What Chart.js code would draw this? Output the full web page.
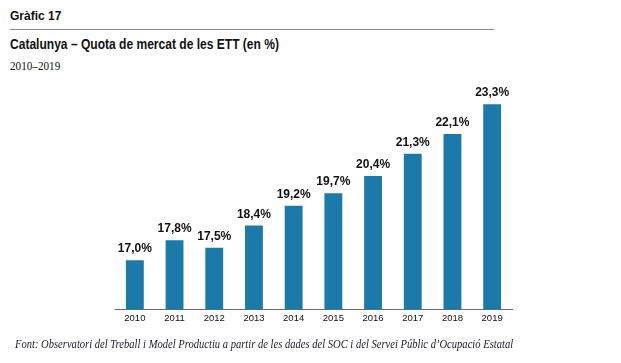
<!DOCTYPE html>
<html>
<head>
<meta charset="utf-8">
<script src="https://cdn.jsdelivr.net/npm/chart.js@4.4.0/dist/chart.umd.min.js"></script>
<style>
  body { margin: 0; background: #fff; }
  #wrap { position: relative; width: 621px; height: 363px; overflow: hidden; }
  #grafic { position: absolute; left: 10px; top: 9px; font: bold 12px "Liberation Sans", Arial, sans-serif; color: #111; }
  #linia { position: absolute; left: 10px; top: 29px; width: 484px; height: 1px; background: #8a8a8a; }
  #titol { position: absolute; left: 10px; top: 36px; font: bold 14px "Liberation Sans", Arial, sans-serif; color: #111;
           transform: scaleX(0.86); transform-origin: left top; white-space: nowrap; }
  #periode { position: absolute; left: 10px; top: 59px; font: 12px "Liberation Serif", "Times New Roman", serif; color: #111;
             transform: scaleX(0.93); transform-origin: left top; }
  #font { position: absolute; left: 15px; top: 337px; font: italic 12px "Liberation Serif", "Times New Roman", serif; color: #1a1a2e;
          transform: scaleX(0.88); transform-origin: left top; white-space: nowrap; }
  canvas { position: absolute; left: 0; top: 0; }
</style>
</head>
<body>
<div id="wrap">
  <div id="grafic">Gràfic 17</div>
  <div id="linia"></div>
  <div id="titol">Catalunya – Quota de mercat de les ETT (en %)</div>
  <div id="periode">2010–2019</div>
  <canvas id="quotaChart" width="621" height="363"></canvas>
  <div id="font">Font: Observatori del Treball i Model Productiu a partir de les dades del SOC i del Servei Públic d’Ocupació Estatal</div>
</div>
<script>
// Dades del gràfic
var anys = ["2010", "2011", "2012", "2013", "2014", "2015", "2016", "2017", "2018", "2019"];
var quota = [17.0, 17.8, 17.5, 18.4, 19.2, 19.7, 20.4, 21.3, 22.1, 23.3];

// Etiquetes de valor damunt de cada barra (format català, amb coma)
var etiquetesBarres = {
  id: "etiquetesBarres",
  afterDatasetsDraw: function (chart) {
    var ctx = chart.ctx;
    var meta = chart.getDatasetMeta(0);
    ctx.save();
    ctx.font = "bold 12px 'Liberation Sans', Arial, sans-serif";
    ctx.fillStyle = "#111";
    ctx.textAlign = "center";
    ctx.textBaseline = "alphabetic";
    meta.data.forEach(function (bar, i) {
      var text = quota[i].toFixed(1).replace(".", ",") + "%";
      ctx.fillText(text, bar.x, bar.y - 8);
    });
    ctx.restore();
  }
};

Chart.defaults.font.family = "'Liberation Sans', Arial, sans-serif";

new Chart(document.getElementById("quotaChart"), {
  type: "bar",
  data: {
    labels: anys,
    datasets: [{
      label: "Quota de mercat de les ETT",
      data: quota,
      backgroundColor: "#1c7aab",
      borderWidth: 0,
      categoryPercentage: 1,
      barPercentage: 0.45
    }]
  },
  options: {
    responsive: false,
    animation: false,
    layout: { padding: { left: 115, right: 109, top: 87, bottom: 36 } },
    plugins: {
      legend: { display: false },
      tooltip: { enabled: false }
    },
    scales: {
      x: {
        grid: { display: false, drawTicks: false },
        border: { display: true, color: "#6e6e6e", width: 1 },
        ticks: { color: "#111", font: { size: 9.5 }, padding: 3 }
      },
      y: {
        display: false,
        min: 15,
        max: 24
      }
    }
  },
  plugins: [etiquetesBarres]
});
</script>
</body>
</html>
